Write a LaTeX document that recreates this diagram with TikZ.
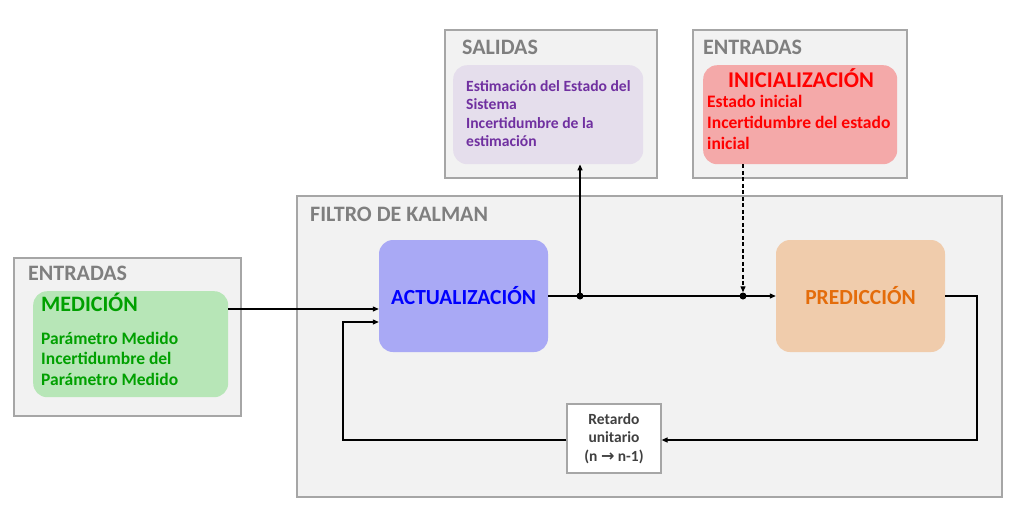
\documentclass[tikz,border=0pt]{standalone}
\usepackage{fontspec}
\setmainfont{Carlito}
\newfontfamily\symfont{DejaVu Sans}
\usetikzlibrary{arrows.meta,calc}
\definecolor{panelfill}{HTML}{F2F2F2}
\definecolor{panelline}{HTML}{A6A6A6}
\definecolor{titlegray}{HTML}{7F7F7F}
\definecolor{purplefill}{HTML}{E5DEEC}
\definecolor{purpletext}{HTML}{7030A0}
\definecolor{redfill}{HTML}{F4A9A9}
\definecolor{redtext}{HTML}{FF0000}
\definecolor{greenfill}{HTML}{B7E6B7}
\definecolor{greentext}{HTML}{00A000}
\definecolor{bluefill}{HTML}{A9A9F5}
\definecolor{bluetext}{HTML}{0000FF}
\definecolor{orangefill}{HTML}{F0CCAC}
\definecolor{orangetext}{HTML}{E46C0A}
\definecolor{delaytext}{HTML}{404040}
\tikzset{
  panel/.style={draw=panelline, line width=1.2pt, fill=panelfill},
  inner/.style={rounded corners=14pt, draw=none},
  paneltitle/.style={anchor=base west, text=titlegray, font=\bfseries\fontsize{22}{24}\selectfont, inner sep=0pt},
  body/.style={anchor=base west, align=left, inner sep=0pt},
  block/.style={rounded corners=14pt, minimum width=169pt, minimum height=112pt, inner sep=0pt, font=\bfseries\fontsize{21.5}{24}\selectfont},
  conn/.style={line width=1.2pt, -{Triangle[length=6pt,width=5pt]}},
  plain/.style={line width=1.2pt},
  dot/.style={circle, fill=black, inner sep=0pt, minimum size=7pt}
}
\begin{document}
\begin{tikzpicture}[x=1pt,y=-1pt]
\useasboundingbox (0,0) rectangle (1018,515);
% panels
\draw[panel] (445,30) rectangle (657,178);
\draw[panel] (693,30) rectangle (907,178);
\draw[panel] (297,196) rectangle (1002,497);
\draw[panel] (14,258) rectangle (241,416);
\node[paneltitle] (tsal) at (462,54.3) {SALIDAS};
\node[paneltitle] (tentr) at (703,54.3) {ENTRADAS};
\node[paneltitle] (tkal) at (310,221.7) {FILTRO DE KALMAN};
\node[paneltitle] (tentl) at (28,280) {ENTRADAS};
% inner boxes (base anchor of multi-line text = baseline of last line)
\node[inner, fill=purplefill, minimum width=190pt, minimum height=99pt, anchor=north west] (sal) at (453,65) {};
\node[body, text=purpletext, font=\bfseries\fontsize{15.6}{18.4}\selectfont] (saltxt) at (466,146.7) {Estimación del Estado del\\Sistema\\Incertidumbre de la\\estimación};
\node[inner, fill=redfill, minimum width=194pt, minimum height=99pt, anchor=north west] (ini) at (703,65) {};
\node[anchor=base, text=redtext, font=\bfseries\fontsize{22.5}{24}\selectfont, inner sep=0pt] (initit) at (801,87.3) {INICIALIZACIÓN};
\node[body, text=redtext, font=\bfseries\fontsize{17.5}{20.7}\selectfont] (initxt) at (707,149) {Estado inicial\\Incertidumbre del estado\\inicial};
\node[inner, fill=greenfill, minimum width=195pt, minimum height=106pt, anchor=north west] (med) at (33,291) {};
\node[anchor=base west, text=greentext, font=\bfseries\fontsize{22}{24}\selectfont, inner sep=0pt] (medtit) at (41,311.7) {MEDICIÓN};
\node[body, text=greentext, font=\bfseries\fontsize{17.5}{20.4}\selectfont] (medtxt) at (41,385) {Parámetro Medido\\Incertidumbre del\\Parámetro Medido};
% blocks
\node[block, fill=bluefill, text=bluetext] (act) at (463.5,296) {ACTUALIZACIÓN};
\node[block, fill=orangefill, text=orangetext] (pred) at (860.5,296) {PREDICCIÓN};
\node[draw=panelline, line width=1.2pt, fill=white, minimum width=94pt, minimum height=69pt, inner sep=0pt, align=center, text=delaytext, font=\bfseries\fontsize{15.5}{18.3}\selectfont] (ret) at (614,438.5) {Retardo\\unitario\\(n {\symfont\bfseries\fontsize{16}{18}\selectfont →} n-1)};
% junctions
\node[dot] (j1) at (580,296) {};
\node[dot] (j2) at (743,296) {};
\coordinate (c1) at (977,296);
\coordinate (c2) at (977,440);
\coordinate (c3) at (343,440);
\coordinate (c4) at (343,322);
% connectors
\draw[conn] (med.east |- 0,309) -- (act.west |- 0,309);
\draw[plain] (act.east) -- (j1.center);
\draw[conn] (j1.center) -- (pred.west);
\draw[conn] (j1.center) -- (sal.south -| j1);
\draw[conn, dash pattern=on 4pt off 2.5pt] (ini.south -| j2) -- (j2.north);
\draw[conn] (pred.east) -- (c1) -- (c2) -- (ret.east |- c2);
\draw[conn] (ret.west |- c3) -- (c3) -- (c4) -- (act.west |- c4);
\end{tikzpicture}
\end{document}
